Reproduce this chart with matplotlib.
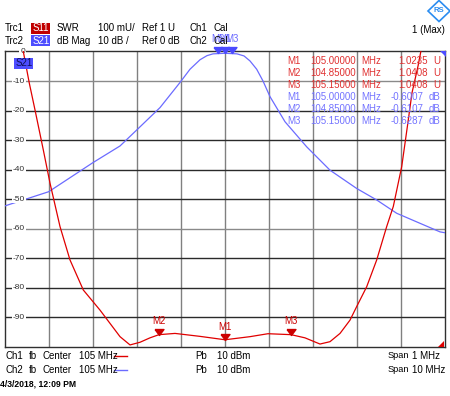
import numpy as np
import matplotlib.pyplot as plt
from matplotlib.patches import Rectangle, Polygon
from matplotlib.path import Path
from matplotlib.transforms import Affine2D, blended_transform_factory

plt.rcParams['font.family'] = ['Liberation Sans', 'DejaVu Sans']

# Trc2: S21 dB Mag, span 10 MHz
f_s21 = [100.0, 100.993, 101.993, 102.614, 103.0, 103.523, 103.977, 104.205,
         104.432, 104.591, 104.727, 105.0, 105.273, 105.432,
         105.568, 105.72, 105.864, 106.023, 106.364, 106.857, 107.386, 107.993,
         108.448, 108.902, 109.432, 109.886, 110.0]
s21_db = [-52.3, -47.5, -37.7, -32.0, -26.5, -19.0, -10.5, -6.0,
          -2.8, -1.4, -0.8, -0.6, -0.8, -1.5,
          -3.2, -6.0, -10.0, -15.3, -23.8, -32.3, -40.2, -46.4,
          -50.3, -54.8, -58.2, -61.1, -61.4]

# Trc1: S11 SWR, span 1 MHz
f_s11 = [104.5416, 104.5552, 104.5682, 104.587, 104.6023, 104.625, 104.6477,
         104.678, 104.7159, 104.7614, 104.7841, 104.8068, 104.8295, 104.85,
         104.8864, 104.9432, 105.0, 105.0568, 105.0977, 105.15, 105.1818,
         105.2159, 105.2386, 105.2614, 105.2841, 105.2993, 105.322, 105.3448,
         105.3675, 105.3825, 105.4016, 105.4159, 105.425, 105.4386, 105.4477]
s11_swr = [2.0, 1.893, 1.802, 1.667, 1.554, 1.407, 1.294,
           1.192, 1.124, 1.034, 1.006, 1.015, 1.030, 1.0408,
           1.045, 1.035, 1.0235, 1.034, 1.044, 1.0408, 1.030,
           1.009, 1.017, 1.045, 1.090, 1.136, 1.203, 1.294,
           1.407, 1.475, 1.61, 1.761, 1.86, 1.95, 2.02]

mk_names = ['M1', 'M2', 'M3']
mk_f = [105.0, 104.85, 105.15]
mk_swr = [1.0235, 1.0408, 1.0408]
mk_db = [-0.6007, -0.6107, -0.6287]

db_ticks = [0, -10, -20, -30, -40, -50, -60, -70, -80, -90]

RED = '#e00000'
BLUE = '#6b6bff'

W, H = 450, 396
fig = plt.figure(figsize=(W / 100, H / 100), dpi=100)
px = Affine2D().scale(1 / W, -1 / H).translate(0, 1) + fig.transFigure

rect = [5 / W, (H - 346.7) / H, 440 / W, 295.2 / H]
ax = fig.add_axes(rect)
ax.set_xlim(100, 110)
ax.set_ylim(-100, 0)
ax.set_xticks([])
ax.set_yticks([])
for v in np.arange(101, 110, 1):
    ax.axvline(v, color='#808080', lw=1, zorder=1)
for v in np.arange(-90, 0, 10):
    c = '#8a8a8a' if v in (-10, -60) else '#2a2a2a'
    ax.axhline(v, color=c, lw=1, zorder=1)
for s in ax.spines.values():
    s.set_color('#303030')
    s.set_linewidth(1)

ax.plot(f_s21, s21_db, color=BLUE, lw=0.9, zorder=3)

ax2 = fig.add_axes(rect, frameon=False)
ax2.set_xlim(104.5, 105.5)
ax2.set_ylim(1.0, 2.0)
ax2.set_xticks([])
ax2.set_yticks([])
ax2.plot(f_s11, s11_swr, color=RED, lw=0.9, zorder=3)

fs = 7.0
tri = Path([(-0.75, 1.0), (0.75, 1.0), (0, 0), (-0.75, 1.0)])
for n, f, v in zip(mk_names, mk_f, mk_swr):
    ax2.plot([f], [v], marker=tri, ms=8.6, color='#cc0000', ls='none', zorder=4)
    ax2.annotate(n, (f, v), xytext=(0, 9.5), textcoords='offset points',
                 ha='center', va='center', color='#cc0000', fontsize=fs)
for n, f, v in zip(mk_names, mk_f, mk_db):
    ax.plot([f], [v], marker=tri, ms=8.6, color='#4a4aff', ls='none',
            zorder=4, clip_on=False)
    ax.annotate(n, (f, v), xytext=(0, 10.5), textcoords='offset points',
                ha='center', va='center', color=BLUE, fontsize=fs,
                annotation_clip=False)

# y tick labels drawn over the grid
tr = blended_transform_factory(ax.transAxes, ax.transData)
for v in db_ticks:
    ax.text(20 / 440, v, str(v), transform=tr, ha='right', va='center',
            fontsize=6, color='#303030', zorder=5,
            bbox=dict(boxstyle='square,pad=0.1', fc='white', ec='none'))


def t(x, y, s, **kw):
    kw.setdefault('fontsize', fs)
    kw.setdefault('va', 'center')
    fig.text(x, y, s, transform=px, **kw)


# header
for y, trc, lab, col, a, b, c, ch in [
        (28, 'Trc1', 'S11', '#c00000', 'SWR', '100 mU/', 'Ref 1 U', 'Ch1'),
        (40.5, 'Trc2', 'S21', '#4d4dff', 'dB Mag', '10 dB /', 'Ref 0 dB', 'Ch2')]:
    t(5, y, trc)
    fig.patches.append(Rectangle((31, y - 5.5), 19, 11, transform=px,
                                 fc=col, ec='none'))
    t(33, y, lab, color='white')
    t(57, y, a)
    t(98, y, b)
    t(142, y, c)
    t(190, y, ch)
    t(214, y, 'Cal', zorder=0)

fig.patches.append(Rectangle((14, 58), 19, 10.5, transform=px,
                             fc='#4d4dff', ec='none', zorder=6))
t(15.5, 63.3, 'S21', color='#10105a', zorder=7)

# marker table
rows_y = [61.5, 73, 84.5, 97, 108.5, 120.5]
for i in range(3):
    for j, (vals, unit, col, xr) in enumerate([
            (mk_swr, 'U', '#e03030', 428), (mk_db, 'dB', '#7373ff', 423)]):
        y = rows_y[i + 3 * j]
        t(287, y, mk_names[i], color=col)
        t(310.7, y, f'{mk_f[i]:.5f}', color=col)
        t(361.5, y, 'MHz', color=col)
        t(xr, y, f'{vals[i]:.4f}', color=col, ha='right')
        t(440, y, unit, color=col, ha='right')

# corner flags
fig.patches.append(Polygon([(440, 51), (446, 51), (446, 57)], closed=True,
                           transform=px, fc='#4d4dff', ec='none'))
fig.patches.append(Polygon([(444, 340.5), (444, 346.5), (438, 346.5)],
                           closed=True, transform=px, fc='#e00000', ec='none'))

# top right
fig.patches.append(Polygon([(439, 0.5), (450, 11), (439, 21.5), (428, 11)],
                           closed=True, transform=px, fc='white',
                           ec='#2a8cf0', lw=1.2))
t(439, 11, 'RS', ha='center', fontsize=5.5, color='#2a8cf0',
  fontweight='bold')
t(445, 30, '1 (Max)', ha='right')

# footer
for y, ch, col, span in [(356, 'Ch1', RED, '1 MHz'), (370, 'Ch2', BLUE, '10 MHz')]:
    t(5, y, ch)
    t(29.3, y, 'fb')
    t(42.3, y, 'Center')
    t(79, y, '105 MHz')
    fig.lines.append(plt.Line2D([114, 127], [y, y], transform=px,
                                color=col, lw=1))
    t(195, y, 'Pb')
    t(216.7, y, '10 dBm')
    t(387.5, y, 'Span', fontsize=6.7)
    t(411.7, y, span)
t(0.5, 383.5, '4/3/2018, 12:09 PM', fontsize=6.2, fontweight='bold')

fig.savefig('out.png', dpi=100)
